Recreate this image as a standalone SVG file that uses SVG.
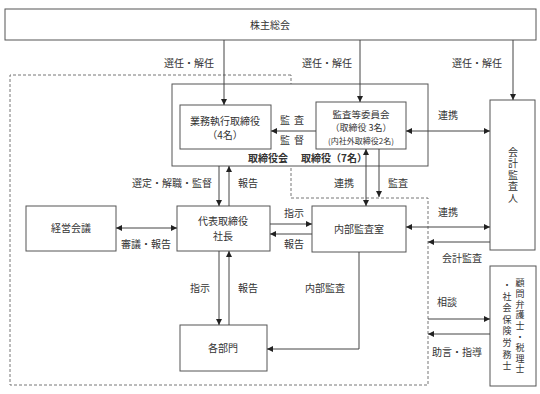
<svg xmlns="http://www.w3.org/2000/svg" width="540" height="394" viewBox="0 0 540 394">
<defs>
<marker id="ah" viewBox="0 0 10 10" refX="10" refY="5" markerWidth="6" markerHeight="6" orient="auto-start-reverse" markerUnits="userSpaceOnUse">
<path d="M0,0 L10,5 L0,10 z" fill="#222"/>
</marker>
<style>
text{font-family:"Noto Sans CJK JP","Noto Sans",sans-serif;font-size:10px;fill:#333}
.box{fill:#fff;stroke:#555;stroke-width:1}
.ln{fill:none;stroke:#444;stroke-width:1}
.ar{fill:none;stroke:#444;stroke-width:1;marker-end:url(#ah)}
.ar2{fill:none;stroke:#444;stroke-width:1;marker-start:url(#ah);marker-end:url(#ah)}
.dash{fill:none;stroke:#777;stroke-width:1;stroke-dasharray:3,2}
.c{text-anchor:middle}
.b{font-weight:bold}
.v{writing-mode:vertical-rl;letter-spacing:1.5px}
.s{font-size:9px}
</style>
</defs>

<g id="dashed-area">
<path class="dash" d="M291,75 L10,75 L10,385 L428,385 L428,198 L291,198 Z"/>
</g>

<g id="board">
<rect class="box" x="172" y="84" width="256" height="82" fill="none"/>
<text x="268" y="162" class="c b">取締役会</text>
<text x="334" y="162" class="c b">取締役（7名）</text>
</g>

<g id="shareholders">
<rect class="box" x="5" y="9" width="531" height="31"/>
<text x="270" y="29" class="c">株主総会</text>
</g>

<g id="exec-directors">
<rect class="box" x="180" y="105" width="91" height="44"/>
<text x="225" y="125" class="c">業務執行取締役</text>
<text x="225" y="139" class="c">（4名）</text>
</g>

<g id="audit-committee">
<rect class="box" x="316" y="102" width="90" height="47"/>
<text x="361" y="118" class="c s" style="font-size:9.5px">監査等委員会</text>
<text x="361" y="131" class="c s">（取締役 3名）</text>
<text x="361" y="144" class="c" style="font-size:8px">(内社外取締役2名)</text>
</g>

<g id="accounting-auditor">
<rect class="box" x="490" y="100" width="45" height="150"/>
<text x="513" y="147" class="v">会計監査人</text>
</g>

<g id="president">
<rect class="box" x="177" y="206" width="93" height="45"/>
<text x="223" y="225" class="c">代表取締役</text>
<text x="223" y="240" class="c">社長</text>
</g>

<g id="management-meeting">
<rect class="box" x="26" y="206" width="90" height="45"/>
<text x="71" y="232" class="c">経営会議</text>
</g>

<g id="internal-audit">
<rect class="box" x="312" y="206" width="94" height="46"/>
<text x="359" y="233" class="c">内部監査室</text>
</g>

<g id="departments">
<rect class="box" x="180" y="325" width="87" height="46"/>
<text x="223" y="352" class="c">各部門</text>
</g>

<g id="advisors">
<rect class="box" x="490" y="266" width="46" height="120"/>
<text x="520" y="278" class="v s" style="letter-spacing:1.8px">顧問弁護士・税理士</text>
<text x="507" y="280" class="v s" style="letter-spacing:2.6px">・社会保険労務士</text>
</g>

<g id="connectors">
<path class="ar" d="M224,40 V105"/>
<path class="ar" d="M360,40 V102"/>
<path class="ar" d="M513,40 V100"/>
<path class="ar" d="M316,131 H271"/>
<path class="ar2" d="M406,131 H490"/>
<path class="ar2" d="M366,149 V206"/>
<path class="ar" d="M379,149 V197"/>
<path class="ar" d="M219,166 V206"/>
<path class="ar" d="M229,206 V166"/>
<path class="ar2" d="M116,228 H177"/>
<path class="ar" d="M270,224 H312"/>
<path class="ar" d="M312,234 H270"/>
<path class="ar2" d="M406,227 H490"/>
<path class="ar" d="M490,242 H428"/>
<path class="ar" d="M219,251 V325"/>
<path class="ar" d="M229,325 V251"/>
<path class="ar" d="M359,252 V349 H267"/>
<path class="ar" d="M428,319 H490"/>
<path class="ar" d="M490,334 H428"/>
</g>

<g id="labels">
<text x="189" y="67" class="c">選任・解任</text>
<text x="327" y="67" class="c">選任・解任</text>
<text x="477" y="67" class="c">選任・解任</text>
<text x="285" y="124" class="c">監</text>
<text x="299" y="124" class="c">査</text>
<text x="285" y="144" class="c">監</text>
<text x="299" y="144" class="c">督</text>
<text x="448" y="119" class="c">連携</text>
<text x="212" y="187" text-anchor="end">選定・解職・監督</text>
<text x="248" y="187" class="c">報告</text>
<text x="344" y="187" class="c">連携</text>
<text x="398" y="187" class="c">監査</text>
<text x="294" y="217" class="c">指示</text>
<text x="294" y="248" class="c">報告</text>
<text x="146" y="248" class="c">審議・報告</text>
<text x="448" y="216" class="c">連携</text>
<text x="462" y="262" class="c">会計監査</text>
<text x="200" y="292" class="c">指示</text>
<text x="248" y="292" class="c">報告</text>
<text x="325" y="292" class="c">内部監査</text>
<text x="447" y="306" class="c">相談</text>
<text x="457" y="356" class="c">助言・指導</text>
</g>
</svg>
